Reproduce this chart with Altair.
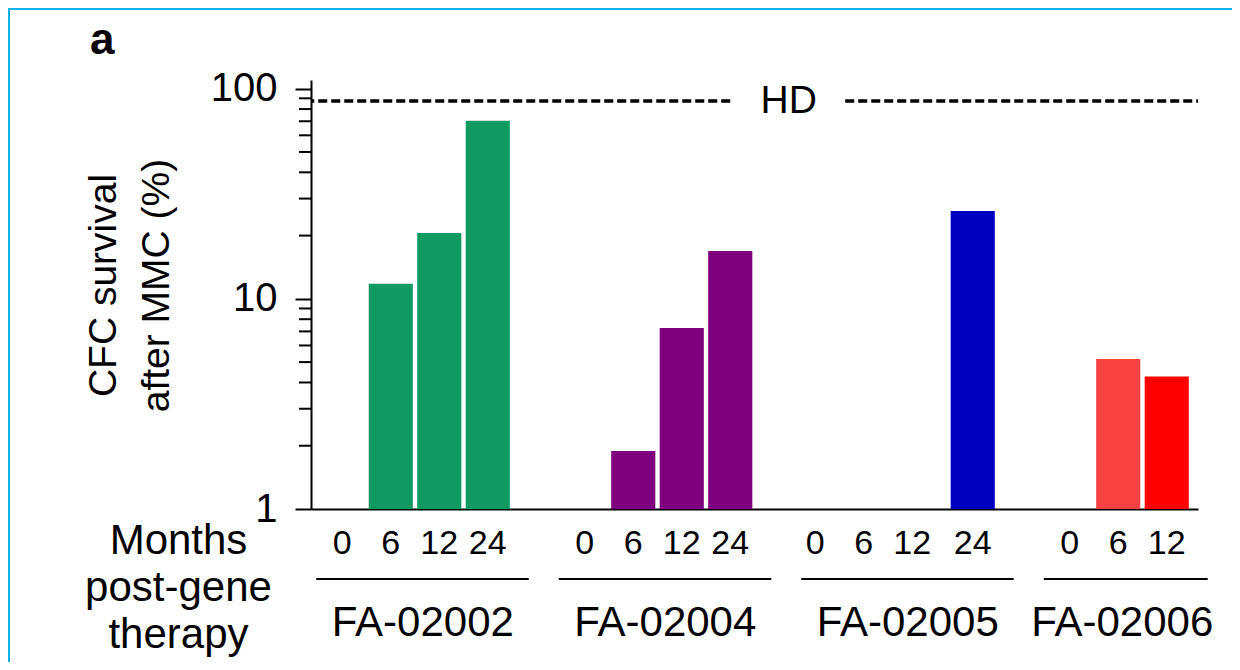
import altair as alt
import pandas as pd

# ---------------- data ----------------
patients = ["FA-02002", "FA-02004", "FA-02005", "FA-02006"]
months = [[0, 6, 12, 24], [0, 6, 12, 24], [0, 6, 12, 24], [0, 6, 12]]
survival = [
    [None, 11.8, 20.6, 70.3],
    [None, 1.89, 7.26, 16.9],
    [None, None, None, 26.2],
    [None, 5.18, 4.27],
]
bar_colors = [
    ["#109961", "#109961", "#109961", "#109961"],
    ["#7f007f", "#7f007f", "#7f007f", "#7f007f"],
    ["#0000c0", "#0000c0", "#0000c0", "#0000c0"],
    ["#f84242", "#f84242", "#ff0000"],
]
hd_value = 87.3
hd_label = "HD"
y_major = [1, 10, 100]
y_minor = [2, 3, 4, 5, 6, 7, 8, 9, 20, 30, 40, 50, 60, 70, 80, 90]
y_title = ["CFC survival", "after MMC (%)"]
x_title = ["Months", "post-gene", "therapy"]
panel_label = "a"

# ---------------- tables ----------------
slots = []
for i, p in enumerate(patients):
    for m in months[i]:
        slots.append(f"{p}|{m}")
    if i < len(patients) - 1:
        slots.append(f"gap{i}")

bar_rows = []
for i, p in enumerate(patients):
    for m, v, c in zip(months[i], survival[i], bar_colors[i]):
        if v is not None:
            bar_rows.append({"patient": p, "month": m, "slot": f"{p}|{m}", "value": v, "color": c})
bars_df = pd.DataFrame(bar_rows)

grp_rows = []
for i, p in enumerate(patients):
    grp_rows.append({
        "patient": p,
        "first": f"{p}|{months[i][0]}",
        "last": f"{p}|{months[i][-1]}",
        "anchor": f"{p}|{months[i][1]}",
        "n": len(months[i]),
    })
grp_df = pd.DataFrame(grp_rows)
grp4 = grp_df[grp_df["n"] == 4]
grp3 = grp_df[grp_df["n"] == 3]

W, H = 887, 429
FONT = "Liberation Sans"

g3_keys = [f"{patients[2]}|{m}" for m in months[2][:3]]
g3_test = " || ".join([f"datum.value == '{k}'" for k in g3_keys])

xscale = alt.Scale(domain=slots, paddingInner=0.09, paddingOuter=0.19)
yscale = alt.Scale(type="log", domain=[1, 110])

xaxis = alt.Axis(
    title=x_title,
    titleX=-133, titleY=44, titleAlign="center", titleBaseline="alphabetic",
    titleAngle=0, titleLineHeight=47, titleFontSize=42, titleFont=FONT,
    titleFontWeight="normal", titleColor="black",
    labelExpr="indexof(datum.value, '|') >= 0 ? split(datum.value, '|')[1] : ''",
    labelAngle=0, labelFontSize=34, labelFont=FONT, labelColor="black",
    labelBaseline="alphabetic", labelPadding=44, labelOverlap=False,
    labelOffset={"condition": {"test": g3_test, "value": -12}, "value": 0},
    ticks=False, tickSize=0, domain=True, domainColor="black", domainWidth=2,
    grid=False,
)

yaxis = alt.Axis(
    title=y_title,
    titleX=-196, titleY=205, titleAlign="center", titleBaseline="alphabetic",
    titleAngle=270, titleLineHeight=53, titleFontSize=39, titleFont=FONT,
    titleFontWeight="normal", titleColor="black",
    values=y_major,
    labelExpr="toString(datum.value)",
    labelFontSize=40, labelFont=FONT, labelColor="black", labelPadding=18,
    labelOverlap=False, labelBound=False,
    ticks=True, tickColor="black", tickWidth=2, tickSize=16,
    domain=True, domainColor="black", domainWidth=2, grid=False,
)

# frame
frame = alt.Chart(pd.DataFrame({"k": [0]})).mark_rect(
    fill=None, stroke="#14b1ee", strokeWidth=2
).encode(
    x=alt.value(-302), x2=alt.value(W + 200), y=alt.value(-71), y2=alt.value(H + 300)
)

bars = alt.Chart(bars_df).mark_bar().encode(
    x=alt.X("slot:N", scale=xscale, axis=xaxis, sort=slots),
    y=alt.Y("value:Q", scale=yscale, axis=yaxis),
    y2=alt.datum(1),
    color=alt.Color("color:N", scale=None),
)

# minor ticks of the log axis
minor_ticks = alt.Chart(pd.DataFrame({"v": y_minor})).mark_rule(color="black", strokeWidth=2).encode(
    y=alt.Y("v:Q", scale=yscale, axis=yaxis),
    x=alt.value(-12),
    x2=alt.value(0),
)

hd_df = pd.DataFrame({"v": [hd_value]})
hd_left = alt.Chart(hd_df).mark_rule(color="black", strokeWidth=3.5, strokeDash=[9, 4]).encode(
    x=alt.X(datum=f"{patients[1]}|{months[1][-1]}", scale=xscale, axis=xaxis),
    x2=alt.value(0),
    y=alt.Y("v:Q", scale=yscale, axis=yaxis),
)
hd_right = alt.Chart(hd_df).mark_rule(color="black", strokeWidth=3.5, strokeDash=[9, 4], xOffset=18).encode(
    x=alt.X(datum=f"{patients[2]}|{months[2][0]}", scale=xscale, axis=xaxis),
    x2=alt.value(W),
    y=alt.Y("v:Q", scale=yscale, axis=yaxis),
)
hd_text = alt.Chart(pd.DataFrame({"v": [hd_value], "t": [hd_label]})).mark_text(
    fontSize=39, font=FONT, color="black", baseline="middle", align="center", dx=10
).encode(
    x=alt.X(datum="gap1", scale=xscale, axis=xaxis),
    y=alt.Y("v:Q", scale=yscale, axis=yaxis),
    text="t:N",
)

grp_lines = alt.Chart(grp_df).mark_rule(color="black", strokeWidth=2, xOffset=-26, x2Offset=41).encode(
    x=alt.X("first:N", scale=xscale, axis=xaxis),
    x2="last:N",
    y=alt.value(499),
)
grp_text4 = alt.Chart(grp4).mark_text(
    fontSize=42, font=FONT, color="black", baseline="alphabetic", align="center", dx=32
).encode(
    x=alt.X("anchor:N", scale=xscale, axis=xaxis),
    y=alt.value(556),
    text="patient:N",
)
grp_text3 = alt.Chart(grp3).mark_text(
    fontSize=42, font=FONT, color="black", baseline="alphabetic", align="center", dx=4
).encode(
    x=alt.X("anchor:N", scale=xscale, axis=xaxis),
    y=alt.value(556),
    text="patient:N",
)

panel = alt.Chart(pd.DataFrame({"t": [panel_label]})).mark_text(
    fontSize=44, font=FONT, fontWeight="bold", color="black", align="left", baseline="alphabetic"
).encode(x=alt.value(-221), y=alt.value(-26), text="t:N")

chart = alt.layer(
    frame, bars, minor_ticks, hd_left, hd_right, hd_text, grp_lines, grp_text4, grp_text3, panel
).properties(
    width=W, height=H,
    padding={"left": 303, "top": 72, "right": 34, "bottom": 153},
    autosize=alt.AutoSizeParams(type="none"),
    background="white",
).configure_view(stroke=None)

chart.save("out.html", embed_options={"renderer": "svg", "actions": False})
